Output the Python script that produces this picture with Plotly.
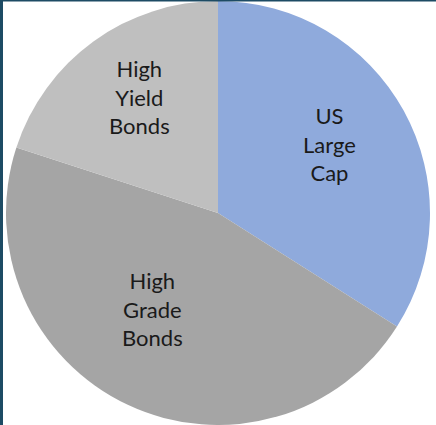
import math
import plotly.graph_objects as go

# Portfolio allocation (%)
labels = ["US<br>Large<br>Cap", "High<br>Grade<br>Bonds", "High<br>Yield<br>Bonds"]
values = [34, 46, 20]
colors = ["#8FAADC", "#A5A5A5", "#BFBFBF"]

# label placement: fraction of radius and angular nudge (degrees) from mid-angle
label_radius = [0.62, 0.55, 0.66]
label_nudge = [-3, 9, 2]

W, H = 436, 425
cx, cy, R = 218, 213, 212  # pie centre and radius in pixels

fig = go.Figure(
    go.Pie(
        labels=labels,
        values=values,
        sort=False,
        direction="clockwise",
        rotation=0,
        marker=dict(colors=colors, line=dict(width=0)),
        textinfo="none",
        hoverinfo="label+percent",
        showlegend=False,
        domain=dict(x=[(cx - R) / W, (cx + R) / W], y=[(H - cy - R) / H, (H - cy + R) / H]),
    )
)

# labels placed along each slice's mid-angle
total = sum(values)
cum = 0
annotations = []
for lab, v, rf, nd in zip(labels, values, label_radius, label_nudge):
    mid = (cum + v / 2) / total * 2 * math.pi + math.radians(nd)
    cum += v
    px = cx + rf * R * math.sin(mid)
    py = cy - rf * R * math.cos(mid)
    annotations.append(
        dict(
            x=px / W, y=1 - py / H, xref="paper", yref="paper",
            text=lab, showarrow=False,
            font=dict(family="Lato, Open Sans, sans-serif", size=22, color="#1a1a1a"),
            align="center", xanchor="center", yanchor="middle",
        )
    )

border = "#1d4b64"
fig.update_layout(
    width=W, height=H,
    margin=dict(l=0, r=0, t=0, b=0),
    paper_bgcolor="white",
    plot_bgcolor="white",
    annotations=annotations,
    shapes=[
        dict(type="rect", xref="paper", yref="paper", x0=0, x1=3 / W, y0=0, y1=1,
             fillcolor=border, line=dict(width=0), layer="above"),
        dict(type="rect", xref="paper", yref="paper", x0=0, x1=1, y0=1 - 1.5 / H, y1=1,
             fillcolor=border, line=dict(width=0), layer="above"),
    ],
)

fig.write_html("out.html")
